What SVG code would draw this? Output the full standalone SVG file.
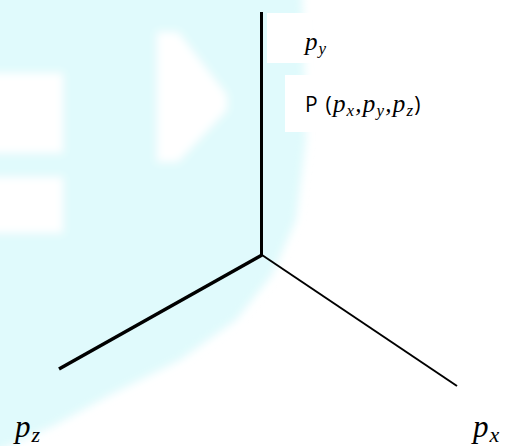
<svg xmlns="http://www.w3.org/2000/svg" width="509" height="446" viewBox="0 0 509 446">
  <defs>
    <filter id="soft" x="-10%" y="-10%" width="120%" height="120%">
      <feGaussianBlur stdDeviation="4"/>
    </filter>
  </defs>
  <style>
    .axis { stroke: #000; fill: none; stroke-linecap: butt; }
    .math { font-family: "Liberation Serif", "DejaVu Serif", serif; font-style: italic; fill: #000; }
    .sans { font-family: "Open Sans", "Liberation Sans", sans-serif; fill: #000; }
  </style>
  <rect width="509" height="446" fill="#ffffff"/>
  <g id="watermark" filter="url(#soft)">
    <path d="M-10,-10 L302,-10 L306,140 L296,220 L272,275 L236,320 L180,360 L110,395 L55,425 L-10,455 Z" fill="#e0fafc"/>
    <rect x="-10" y="73" width="73" height="80" fill="#ffffff"/>
    <rect x="-10" y="177" width="73" height="56" fill="#ffffff"/>
    <path d="M157,32 L178,32 L227,95 L227,110 L178,162 L157,162 Z" fill="#ffffff"/>
  </g>
  <rect x="267" y="13" width="45" height="50" fill="#ffffff"/>
  <rect x="285" y="75" width="30" height="57" fill="#ffffff"/>
  <g id="connectors">
    <line class="axis" x1="261.5" y1="12" x2="261.5" y2="256" stroke-width="3"/>
    <line class="axis" x1="262" y1="255" x2="59" y2="369" stroke-width="3.5"/>
    <line class="axis" x1="262" y1="255" x2="457" y2="386" stroke-width="2"/>
  </g>
  <g id="label-py">
    <text class="math" x="305" y="50" font-size="25">p<tspan font-size="17" dy="4" dx="1">y</tspan></text>
  </g>
  <g id="label-P">
    <text x="305" y="112" font-size="21" letter-spacing="1.2"><tspan class="sans">P (</tspan><tspan class="math" font-size="25">p</tspan><tspan class="math" font-size="17" dy="4">x</tspan><tspan class="math" font-size="25" dy="-4">,p</tspan><tspan class="math" font-size="17" dy="4">y</tspan><tspan class="math" font-size="25" dy="-4">,p</tspan><tspan class="math" font-size="17" dy="4">z</tspan><tspan class="sans" dy="-4">)</tspan></text>
  </g>
  <g id="label-pz">
    <text class="math" x="15" y="437" font-size="31">p<tspan font-size="22" dy="5" dx="1">z</tspan></text>
  </g>
  <g id="label-px">
    <text class="math" x="473" y="437" font-size="31">p<tspan font-size="22" dy="5" dx="1">x</tspan></text>
  </g>
</svg>
